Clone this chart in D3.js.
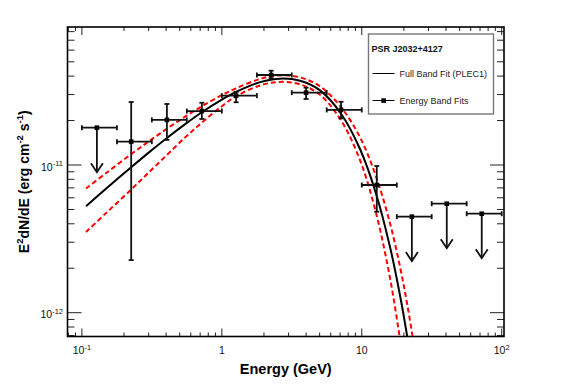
<!DOCTYPE html>
<html><head><meta charset="utf-8">
<script src="https://cdn.jsdelivr.net/npm/d3@7"></script>
<style>body{margin:0;background:#fff}svg{display:block}text{font-family:"Liberation Sans",Arial,Helvetica,sans-serif}</style>
</head><body><svg id="c" width="567" height="384"></svg>
<script>
// ---- data ----
const binLo = [0.1,0.178,0.316,0.562,1.0,1.78,3.16,5.62,10,17.8,31.6,56.2];
const binHi = [0.178,0.316,0.562,1.0,1.78,3.16,5.62,10,17.8,31.6,56.2,100];
const pointE = [0.128,0.225,0.405,0.72,1.265,2.25,4.0,7.11,12.8,22.8,40.5,72.0];
const pointF = [1.79e-11,1.44e-11,2.02e-11,2.32e-11,2.95e-11,4.07e-11,3.09e-11,2.36e-11,7.32e-12,4.47e-12,5.47e-12,4.68e-12];
const pointHi = [null,2.67e-11,2.59e-11,2.64e-11,3.13e-11,4.35e-11,3.34e-11,2.68e-11,9.85e-12,null,null,null];
const pointLo = [null,2.27e-12,1.48e-11,2.05e-11,2.66e-11,3.86e-11,2.80e-11,2.07e-11,4.83e-12,null,null,null];
const isUL = [true,false,false,false,false,false,false,false,false,true,true,true];

const fitE = [0.107,0.15,0.225,0.3,0.405,0.55,0.72,1.0,1.265,1.88,2.61,3.62,5.03,7.11,9.73,12.6,15.9,18.8,21.3,24];
const fitF = [5.26e-12,6.96e-12,9.67e-12,1.213e-11,1.524e-11,1.90e-11,2.277e-11,2.773e-11,3.13e-11,3.639e-11,3.845e-11,3.718e-11,3.2e-11,2.224e-11,1.278e-11,6.47e-12,2.80e-12,1.297e-12,6.57e-13,3.11e-13];
const bandHi = [6.93e-12,8.86e-12,1.185e-11,1.442e-11,1.762e-11,2.132e-11,2.496e-11,2.972e-11,3.307e-11,3.828e-11,4.045e-11,3.92e-11,3.41e-11,2.466e-11,1.537e-11,8.44e-12,4.05e-12,2.03e-12,1.09e-12,5.47e-13];
const bandLo = [3.52e-12,4.76e-12,6.82e-12,8.89e-12,1.169e-11,1.545e-11,1.938e-11,2.50e-11,2.921e-11,3.459e-11,3.655e-11,3.518e-11,2.99e-11,2.005e-11,1.075e-11,4.80e-12,1.725e-12,6.50e-13,2.74e-13,1.05e-13];

const xMajor = [0.1,1,10,100];
const xMajorLabels = [["10","-1"],["1",""],["10",""],["10","2"]];
const yMajor = [1e-12,1e-11];
const yMajorLabels = [["10","-12"],["10","-11"]];
const legendTitle = "PSR J2032+4127";
const legendItems = ["Full Band Fit (PLEC1)","Energy Band Fits"];
const xTitle = "Energy (GeV)";

// ---- layout ----
const L = 67.5, R = 504, T = 27, B = 336.5;
const svg = d3.select("#c");
const x = d3.scaleLog().domain([0.0789, 103.85]).range([L, R]);
const y = d3.scaleLog().domain([6.9e-13, 8.6e-11]).range([B, T]);

svg.append("defs").append("clipPath").attr("id","clip")
  .append("rect").attr("x",L).attr("y",T).attr("width",R-L).attr("height",B-T);

// ticks
function minorList(lo, hi){
  const out=[];
  for(let e=Math.floor(Math.log10(lo))-1;e<=Math.ceil(Math.log10(hi));e++){
    for(let k=1;k<=9;k++){const v=k*Math.pow(10,e); if(v>=lo*1.0001 && v<=hi*0.9999) out.push({v, major:k===1});}
  }
  return out;
}
const tg = svg.append("g").attr("stroke","#222").attr("stroke-width",1);
const xd = x.domain(), yd = y.domain();
minorList(xd[0],xd[1]).forEach(t=>{
  const px = x(t.v), len = t.major?8:4;
  tg.append("line").attr("x1",px).attr("x2",px).attr("y1",B).attr("y2",B-len);
  tg.append("line").attr("x1",px).attr("x2",px).attr("y1",T).attr("y2",T+len);
});
minorList(yd[0],yd[1]).forEach(t=>{
  const py = y(t.v), len = t.major?14:7;
  tg.append("line").attr("x1",L).attr("x2",L+len).attr("y1",py).attr("y2",py);
  tg.append("line").attr("x1",R).attr("x2",R-len).attr("y1",py).attr("y2",py);
});

// frame
svg.append("rect").attr("x",L).attr("y",T).attr("width",R-L).attr("height",B-T)
  .attr("fill","none").attr("stroke","#000").attr("stroke-width",1.6);

// tick labels
xMajor.forEach((v,i)=>{
  const t = svg.append("text").attr("x",x(v)).attr("y",354).attr("text-anchor","middle")
    .attr("font-size",10.5).attr("fill","#111");
  t.append("tspan").text(xMajorLabels[i][0]);
  if(xMajorLabels[i][1]) t.append("tspan").attr("dy",-4.5).attr("font-size",7.5).text(xMajorLabels[i][1]);
});
yMajor.forEach((v,i)=>{
  const t = svg.append("text").attr("x",63).attr("y",y(v)+5.5).attr("text-anchor","end")
    .attr("font-size",10.5).attr("fill","#111");
  t.append("tspan").text(yMajorLabels[i][0]);
  t.append("tspan").attr("dy",-4.5).attr("font-size",7.5).text(yMajorLabels[i][1]);
});

// axis titles
svg.append("text").attr("x",(L+R)/2).attr("y",373.5).attr("text-anchor","middle")
  .attr("font-size",14.5).attr("font-weight","bold").text(xTitle);
const yt = svg.append("text").attr("transform",`translate(28.5,${(T+B)/2}) rotate(-90)`)
  .attr("text-anchor","middle").attr("font-size",14).attr("font-weight","bold");
yt.append("tspan").text("E");
yt.append("tspan").attr("dy",-5.5).attr("font-size",9.5).text("2");
yt.append("tspan").attr("dy",5.5).text("dN/dE (erg cm");
yt.append("tspan").attr("dy",-5.5).attr("font-size",9.5).text("-2");
yt.append("tspan").attr("dy",5.5).text(" s");
yt.append("tspan").attr("dy",-5.5).attr("font-size",9.5).text("-1");
yt.append("tspan").attr("dy",5.5).text(")");

// curves
const plot = svg.append("g").attr("clip-path","url(#clip)");
const line = (arr)=> d3.line().x((d,i)=>x(fitE[i])).y(d=>y(d)).curve(d3.curveCatmullRom.alpha(0.5))(arr);
plot.append("path").attr("d",line(bandHi)).attr("fill","none").attr("stroke","#ff0000")
  .attr("stroke-width",2).attr("stroke-dasharray","5,3");
plot.append("path").attr("d",line(bandLo)).attr("fill","none").attr("stroke","#ff0000")
  .attr("stroke-width",2).attr("stroke-dasharray","5,3");
plot.append("path").attr("d",line(fitF)).attr("fill","none").attr("stroke","#000").attr("stroke-width",2);

// data points
const pg = svg.append("g").attr("stroke","#111").attr("stroke-width",1.8).attr("fill","none");
const cap = 2.5;
pointE.forEach((e,i)=>{
  const px = x(e), py = y(pointF[i]);
  const x0 = x(binLo[i]), x1 = x(binHi[i]);
  pg.append("line").attr("x1",x0).attr("x2",x1).attr("y1",py).attr("y2",py);
  pg.append("line").attr("x1",x0).attr("x2",x0).attr("y1",py-cap).attr("y2",py+cap);
  pg.append("line").attr("x1",x1).attr("x2",x1).attr("y1",py-cap).attr("y2",py+cap);
  if(isUL[i]){
    const tip = y(pointF[i]*0.5);
    pg.append("line").attr("x1",px).attr("x2",px).attr("y1",py).attr("y2",tip);
    pg.append("path").attr("d",`M${px-6},${tip-9}L${px},${tip}L${px+6},${tip-9}`);
  } else {
    const yh = y(pointHi[i]), yl = y(pointLo[i]);
    pg.append("line").attr("x1",px).attr("x2",px).attr("y1",yh).attr("y2",yl);
    pg.append("line").attr("x1",px-cap).attr("x2",px+cap).attr("y1",yh).attr("y2",yh);
    pg.append("line").attr("x1",px-cap).attr("x2",px+cap).attr("y1",yl).attr("y2",yl);
  }
  svg.append("rect").attr("x",px-2.3).attr("y",py-2.3).attr("width",4.6).attr("height",4.6).attr("fill","#000");
});

// legend
const lg = svg.append("g");
lg.append("rect").attr("x",368.5).attr("y",34).attr("width",125).attr("height",80)
  .attr("fill","#fff").attr("stroke","#777").attr("stroke-width",1.4);
lg.append("text").attr("x",371.5).attr("y",51.5).attr("font-size",9).attr("font-weight","bold")
  .attr("fill","#111").text(legendTitle);
lg.append("line").attr("x1",372.5).attr("x2",394.5).attr("y1",73.5).attr("y2",73.5).attr("stroke","#000").attr("stroke-width",1);
lg.append("text").attr("x",399.5).attr("y",77).attr("font-size",9).attr("fill","#222").text(legendItems[0]);
lg.append("line").attr("x1",372.5).attr("x2",394.5).attr("y1",100.5).attr("y2",100.5).attr("stroke","#000").attr("stroke-width",1);
lg.append("rect").attr("x",381.3).attr("y",98.3).attr("width",4.6).attr("height",4.6).attr("fill","#000");
lg.append("text").attr("x",399.5).attr("y",104).attr("font-size",9).attr("fill","#222").text(legendItems[1]);
</script></body></html>
